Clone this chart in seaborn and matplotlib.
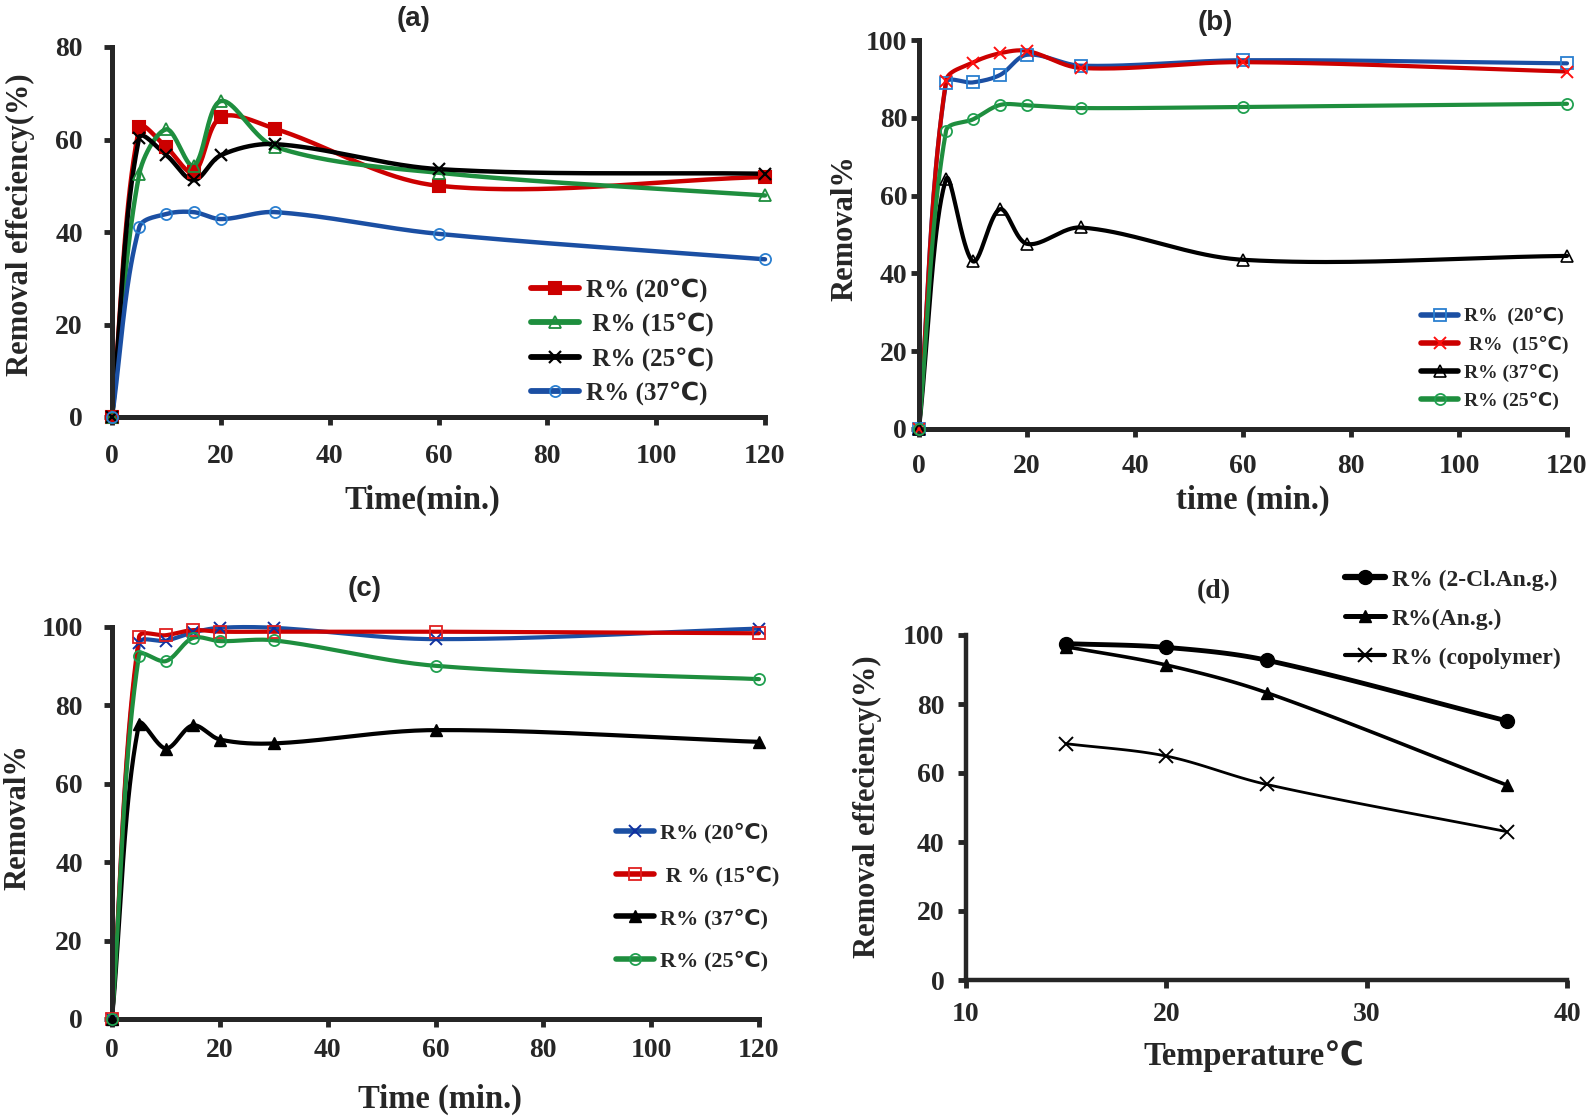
import numpy as np
import matplotlib
matplotlib.use("Agg")
import matplotlib.pyplot as plt
from matplotlib.lines import Line2D
import seaborn as sns

sns.set_style("ticks")
plt.rcParams['font.family'] = ['Liberation Serif', 'DejaVu Sans']
plt.rcParams['font.weight'] = 'bold'

# ---------------- data ----------------
time_min = [0, 5, 10, 15, 20, 30, 60, 120]

a_20 = [0, 62.6, 58.3, 52.9, 64.8, 62.3, 50.0, 51.9]
a_15 = [0, 52.5, 62.2, 54.3, 68.3, 58.4, 52.8, 47.9]
a_25 = [0, 60.4, 56.6, 51.2, 56.6, 59.0, 53.6, 52.6]
a_37 = [0, 41.0, 43.9, 44.3, 42.8, 44.3, 39.6, 34.1]

b_20 = [0, 88.9, 89.1, 91.0, 96.2, 93.4, 94.8, 94.0]
b_15 = [0, 89.5, 94.2, 96.6, 97.2, 92.8, 94.3, 91.9]
b_37 = [0, 64.2, 43.1, 56.5, 47.6, 51.8, 43.5, 44.5]
b_25 = [0, 76.6, 79.6, 83.3, 83.2, 82.5, 82.8, 83.6]

c_20 = [0, 95.8, 96.5, 98.6, 99.8, 99.8, 96.9, 99.6]
c_15 = [0, 97.4, 97.9, 99.2, 98.8, 98.8, 98.8, 98.4]
c_37 = [0, 75.2, 69.0, 74.9, 71.3, 70.3, 73.7, 70.7]
c_25 = [0, 92.7, 91.3, 97.2, 96.4, 96.6, 90.1, 86.7]

temperature = [15, 20, 25, 37]
d_cl = [97.5, 96.4, 92.7, 75.1]
d_an = [96.6, 91.3, 83.3, 56.5]
d_co = [68.5, 64.9, 56.7, 43.0]

labels_a = ["R% (20\u2103)", " R% (15\u2103)", " R% (25\u2103)", "R% (37\u2103)"]
labels_b = ["R%  (20\u2103)", " R%  (15\u2103)", "R% (37\u2103)", "R% (25\u2103)"]
labels_c = ["R% (20\u2103)", " R % (15\u2103)", "R% (37\u2103)", "R% (25\u2103)"]
labels_d = ["R% (2-Cl.An.g.)", "R%(An.g.)", "R% (copolymer)"]

RED = '#CC0000'
GREEN = '#1E8E3E'
BLUE = '#1B4FA3'
LBLUE = '#2A7FD0'
BLACK = '#000000'

W, H = 1592, 1116
fig = plt.figure(figsize=(W / 100, H / 100), dpi=100)


def smooth(ax, x, y, n=40):
    """Excel-like smoothed line through the points (Bezier, length-weighted
    tangents computed in screen space)."""
    bb = ax.get_position()
    x0, x1 = ax.get_xlim()
    y0, y1 = ax.get_ylim()
    sx = bb.width * W / (x1 - x0)
    sy = bb.height * H / (y1 - y0)
    P = np.column_stack([np.asarray(x, float) * sx, np.asarray(y, float) * sy])
    pts = []
    m = len(P)
    for i in range(m - 1):
        p0 = P[i - 1] if i > 0 else P[i]
        p1 = P[i]
        p2 = P[i + 1]
        p3 = P[i + 2] if i + 2 < m else P[i + 1]
        d01 = np.linalg.norm(p1 - p0)
        d12 = np.linalg.norm(p2 - p1)
        d23 = np.linalg.norm(p3 - p2)
        f1 = d12 / (d01 + d12) / 3.0 if (d01 + d12) > 0 else 0
        f2 = d12 / (d12 + d23) / 3.0 if (d12 + d23) > 0 else 0
        c1 = p1 + (p2 - p0) * f1
        c2 = p2 - (p3 - p1) * f2
        t = np.linspace(0, 1, n)[:, None]
        seg = ((1 - t) ** 3) * p1 + 3 * ((1 - t) ** 2) * t * c1 + 3 * (1 - t) * t ** 2 * c2 + t ** 3 * p2
        if i > 0:
            seg = seg[1:]
        pts.append(seg)
    pts = np.vstack(pts)
    return pts[:, 0] / sx, pts[:, 1] / sy


def add_axes(px_left, px_right, px_top, px_bottom):
    return fig.add_axes([px_left / W, 1 - px_bottom / H,
                         (px_right - px_left) / W, (px_bottom - px_top) / H])


def style_axes(ax, xpad, ypad, lw_spine=3.6, labelsize=20):
    sns.despine(ax=ax)
    for s in ['left', 'bottom']:
        ax.spines[s].set_linewidth(lw_spine)
    ax.tick_params(direction='out', length=6, width=3.5, labelsize=labelsize)
    ax.tick_params(axis='x', pad=xpad)
    ax.tick_params(axis='y', pad=ypad)
    for lab in ax.get_xticklabels() + ax.get_yticklabels():
        lab.set_fontweight('bold')


def draw_series(ax, x, y, color, lw, marker, ms, mfc, mec, mew, label):
    xs, ys = smooth(ax, x, y)
    sns.lineplot(x=xs, y=ys, ax=ax, color=color, linewidth=lw, sort=False,
                 estimator=None, legend=False, clip_on=False)
    ax.plot(x, y, linestyle='none', marker=marker, markersize=ms,
            markerfacecolor=mfc, markeredgecolor=mec, markeredgewidth=mew,
            clip_on=False, zorder=5)
    return Line2D([], [], color=color, linewidth=lw + 1, marker=marker, markersize=ms,
                  markerfacecolor=mfc, markeredgecolor=mec, markeredgewidth=mew, label=label)


def legend(ax, handles, anchor, fontsize, spacing, hl=1.9):
    lg = ax.legend(handles=handles, loc='upper left', bbox_to_anchor=anchor,
                   frameon=False, fontsize=fontsize, handlelength=hl,
                   handletextpad=0.3, labelspacing=spacing, borderpad=0,
                   borderaxespad=0)
    for t in lg.get_texts():
        t.set_fontweight('bold')
    return lg


def labels(ax, xl, yl, xcoords, ycoords):
    ax.set_xlabel(xl, fontsize=23.5, fontweight='bold')
    ax.set_ylabel(yl, fontsize=22, fontweight='bold', va='baseline')
    ax.xaxis.set_label_coords(*xcoords)
    ax.yaxis.set_label_coords(*ycoords)


# ---------------- (a) ----------------
axa = add_axes(112, 765, 47, 417)
axa.set_xlim(0, 120)
axa.set_ylim(0, 80)
h = []
h.append(draw_series(axa, time_min, a_20, RED, 3.2, 's', 9, RED, RED, 1.5, labels_a[0]))
h.append(draw_series(axa, time_min, a_15, GREEN, 3.2, '^', 9, 'none', GREEN, 1.3, labels_a[1]))
h.append(draw_series(axa, time_min, a_25, BLACK, 3.2, 'x', 9, BLACK, BLACK, 1.6, labels_a[2]))
h.append(draw_series(axa, time_min, a_37, BLUE, 3.2, 'o', 8, 'none', LBLUE, 1.3, labels_a[3]))
axa.set_xlim(0, 120)
axa.set_ylim(0, 80)
axa.set_xticks(range(0, 121, 20))
axa.set_yticks(range(0, 81, 20))
style_axes(axa, xpad=13.5, ypad=15)
labels(axa, "Time(min.)", "Removal effeciency(%)", (0.475, -0.184), (-0.1286, 0.52))
legend(axa, h, (0.642, 0.375), 18, 0.41)
fig.text(414 / W, 1 - 19 / H, "(a)", ha='center', va='center', fontsize=20,
         fontweight='bold', family=['Liberation Sans', 'DejaVu Sans'])

# ---------------- (b) ----------------
axb = add_axes(919, 1567, 40, 429)
axb.set_xlim(0, 120)
axb.set_ylim(0, 100)
h = []
h.append(draw_series(axb, time_min, b_20, BLUE, 3.0, 's', 8, 'none', LBLUE, 1.3, labels_b[0]))
h.append(draw_series(axb, time_min, b_15, RED, 3.0, 'x', 8, RED, '#FF1010', 1.4, labels_b[1]))
h.append(draw_series(axb, time_min, b_37, BLACK, 3.0, '^', 8, 'none', BLACK, 1.2, labels_b[2]))
h.append(draw_series(axb, time_min, b_25, GREEN, 3.0, 'o', 8, 'none', '#20A050', 1.3, labels_b[3]))
axb.set_xlim(0, 120)
axb.set_ylim(0, 100)
axb.set_xticks(range(0, 121, 20))
axb.set_yticks(range(0, 101, 20))
style_axes(axb, xpad=12, ypad=2.5)
labels(axb, "time (min.)", "Removal%", (0.515, -0.144), (-0.1034, 0.517))
legend(axb, h, (0.775, 0.313), 14, 0.52)
fig.text(1215 / W, 1 - 23 / H, "(b)", ha='center', va='center', fontsize=20,
         fontweight='bold', family=['Liberation Sans', 'DejaVu Sans'])

# ---------------- (c) ----------------
axc = add_axes(112, 759, 627, 1019)
axc.set_xlim(0, 120)
axc.set_ylim(0, 100)
h = []
h.append(draw_series(axc, time_min, c_20, BLUE, 3.0, 'x', 9, BLUE, '#1030A0', 1.4, labels_c[0]))
h.append(draw_series(axc, time_min, c_15, RED, 3.0, 's', 8, 'none', '#E02020', 1.3, labels_c[1]))
h.append(draw_series(axc, time_min, c_37, BLACK, 3.0, '^', 8, BLACK, BLACK, 1.0, labels_c[2]))
h.append(draw_series(axc, time_min, c_25, GREEN, 3.0, 'o', 8, 'none', '#20A050', 1.3, labels_c[3]))
axc.set_xlim(0, 120)
axc.set_ylim(0, 100)
axc.set_xticks(range(0, 121, 20))
axc.set_yticks(range(0, 101, 20))
style_axes(axc, xpad=8, ypad=15)
labels(axc, "Time (min.)", "Removal%", (0.507, -0.166), (-0.1345, 0.515))
legend(axc, h, (0.779, 0.50), 16, 0.99, hl=1.7)
fig.text(365 / W, 1 - 589 / H, "(c)", ha='center', va='center', fontsize=20,
         fontweight='bold', family=['Liberation Sans', 'DejaVu Sans'])

# ---------------- (d) ----------------
axd = add_axes(966, 1567, 635, 980)
axd.set_xlim(10, 40)
axd.set_ylim(0, 100)
h = []
h.append(draw_series(axd, temperature, d_cl, BLACK, 3.5, 'o', 10, BLACK, BLACK, 1.0, labels_d[0]))
h.append(draw_series(axd, temperature, d_an, BLACK, 2.6, '^', 9, BLACK, BLACK, 1.0, labels_d[1]))
h.append(draw_series(axd, temperature, d_co, BLACK, 2.0, 'x', 10, BLACK, BLACK, 1.4, labels_d[2]))
axd.set_xlim(10, 40)
axd.set_ylim(0, 100)
axd.set_xticks(range(10, 41, 10))
axd.set_yticks(range(0, 101, 20))
style_axes(axd, xpad=10, ypad=9.5, lw_spine=3.2)
labels(axd, "Temperature\u2103", "Removal effeciency(%)", (0.479, -0.174), (-0.151, 0.501))
legend(axd, h, (0.63, 1.191), 17, 0.74, hl=1.7)
fig.text(1214 / W, 1 - 592 / H, "(d)", ha='center', va='center', fontsize=20,
         fontweight='bold')

fig.savefig("out.png", dpi=100)
